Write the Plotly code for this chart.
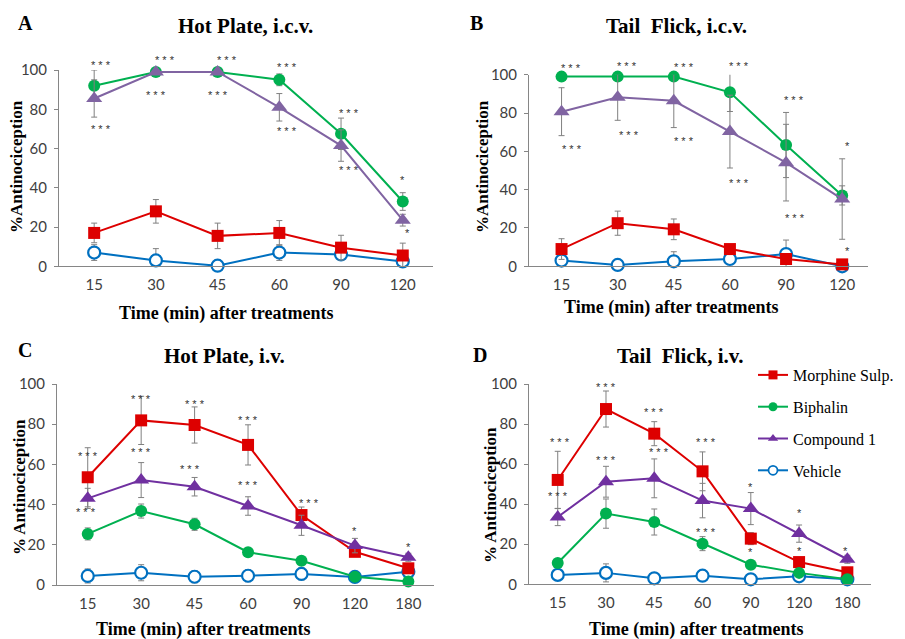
import plotly.graph_objects as go

# ---------------- data ----------------
times_icv = ["15", "30", "45", "60", "90", "120"]
times_iv = ["15", "30", "45", "60", "90", "120", "180"]
series_names = ["Morphine Sulp.", "Biphalin", "Compound 1", "Vehicle"]

# Panel A: Hot Plate, i.c.v.
A_morphine = [17, 28, 15.5, 17, 9.5, 5.5]
A_morphine_err = [5, 6, 6.5, 6.3, 6.3, 6.3]
A_biphalin = [92, 99, 99, 95, 67.5, 33]
A_biphalin_err = [8, 1, 1, 3, 8, 4.5]
A_comp1 = [85.5, 99, 99, 81, 61.5, 23.5]
A_comp1_err = [9.5, 1, 1, 7, 8, 3]
A_vehicle = [7, 3, 0.3, 7, 6, 2.5]
A_vehicle_err = [4, 6, 3, 4, 3, 3]

# Panel B: Tail Flick, i.c.v.
B_morphine = [9, 22.5, 19.3, 9, 3.8, 1]
B_morphine_err = [5.4, 6.3, 5.4, 2, 2, 1]
B_biphalin = [99, 99, 99, 90.8, 63.3, 37]
B_biphalin_err = [1, 1, 1, 10, 17, 5]
B_comp1 = [80.7, 88.2, 86.4, 70.3, 54.1, 35.1]
B_comp1_err = [12.5, 12, 14, 19, 20, 21]
B_vehicle = [3, 0.7, 2.6, 3.8, 6.4, 0]
B_vehicle_err = [2, 1, 5, 2, 7.3, 1]

# Panel C: Hot Plate, i.v.
C_morphine = [53.6, 81.9, 79.6, 69.7, 34.8, 16.5, 8.3]
C_morphine_err = [14.7, 12, 9, 10, 4, 2, 2]
C_biphalin = [25.4, 36.8, 30.2, 16.3, 12.1, 4.1, 1.7]
C_biphalin_err = [3, 3.5, 3, 1.5, 2, 1, 1]
C_comp1 = [43.1, 52.2, 48.9, 39.3, 29.7, 19.6, 13.8]
C_comp1_err = [5, 8.7, 4.6, 4.6, 5, 3.6, 2]
C_vehicle = [4.5, 6.1, 4.1, 4.6, 5.5, 4.0, 6.6]
C_vehicle_err = [3.5, 4, 3, 3, 3, 1, 1]

# Panel D: Tail Flick, i.v.
D_morphine = [52.1, 87.5, 75.2, 56.4, 22.8, 11.1, 6.0]
D_morphine_err = [14.3, 9, 6, 9.7, 3, 2, 1.5]
D_biphalin = [10.6, 35.3, 31.1, 20.3, 9.8, 5.7, 2.5]
D_biphalin_err = [2, 7.3, 6.5, 3.5, 2, 1.5, 1]
D_comp1 = [33.6, 51.2, 52.9, 41.8, 37.8, 25.3, 12.5]
D_comp1_err = [4.3, 7.7, 9.7, 8.6, 8, 4.3, 2]
D_vehicle = [4.7, 5.7, 3.0, 4.3, 2.5, 4.0, 2.5]
D_vehicle_err = [2, 4.5, 1.5, 1.5, 1.5, 1.5, 1]

# significance labels: (category index, level, text)
A_stars = [(0, 104, "***"), (0, 71.5, "***"), (1, 106.8, "***"), (1, 89, "***"),
           (2, 106.8, "***"), (2, 89, "***"), (3, 103, "***"), (3, 70.6, "***"),
           (4, 79.6, "***"), (4, 50.8, "***"), (5, 45.7, "*"), (5, 18.5, "*")]
B_stars = [(0, 105, "***"), (0, 62.8, "***"), (1, 106, "***"), (1, 70.3, "***"),
           (2, 105.6, "***"), (2, 66.8, "***"), (3, 106, "***"), (3, 45, "***"),
           (4, 88.5, "***"), (4, 26.8, "***"), (5, 64.5, "*"), (5, 9.4, "*")]
C_stars = [(0, 65.8, "***"), (0, 37.6, "***"), (1, 94, "***"), (1, 67.5, "***"),
           (2, 91.7, "***"), (2, 59.4, "***"), (3, 83.7, "***"), (3, 51.4, "***"),
           (4, 42.3, "***"), (5, 28.5, "*"), (6, 20.2, "*")]
D_stars = [(0, 72.4, "***"), (0, 45.8, "***"), (1, 99.8, "***"), (1, 63.6, "***"),
           (2, 87.4, "***"), (2, 67.7, "***"), (3, 72.4, "***"), (3, 27.8, "***"),
           (4, 50.2, "*"), (4, 17.8, "*"), (5, 37.1, "*"), (5, 18.1, "*"), (6, 18.1, "*")]
# horizontal nudges of the significance labels (px), same order as above
A_star_dx = [7, 7, 9, 0, 9, 0, 8, 8, 8, 8, 0, 5]
B_star_dx = [9, 10, 9, 11, 10, 10, 9, 9, 8, 9, 5, 5]
C_star_dx = [0, -2, 0, 0, 0, -5, 0, 0, 8, 0, 0]
D_star_dx = [2, 0, 0, 0, 0, 5, 3, 3, 0, 0, 0, 0, -2]

# ---------------- style ----------------
# The page body adds an 8px margin, so the figure is sized to fill the
# 905x639 window exactly; positions below are given in window pixels.
OFF = 8
W, H = 905 - OFF, 639 - OFF
RED = "#DD0000"
GREEN = "#00B050"
PURPLE_ICV = "#8064A2"
PURPLE_IV = "#7030A0"
BLUE = "#0070C0"
ERR = "#808080"
SERIF = "Liberation Serif"
SANS = "Lato"


def px_x(p):
    return (p - OFF) / W


def px_y(p):
    return 1 - (p - OFF) / H


panels = [
    dict(key="", cats=times_icv, purple=PURPLE_ICV,
         xdom=[px_x(59), px_x(433)], ydom=[px_y(266.3), px_y(70)],
         xr=[-0.57, 5.49],
         data=[(A_vehicle, A_vehicle_err), (A_morphine, A_morphine_err),
               (A_biphalin, A_biphalin_err), (A_comp1, A_comp1_err)],
         stars=A_stars, dx=A_star_dx,
         letter=("A", 25, 23), title=("Hot Plate, i.c.v.", 245, 26),
         xt=(226, 313), yt=("%Antinociception", 17, 167)),
    dict(key="2", cats=times_icv, purple=PURPLE_ICV,
         xdom=[px_x(529), px_x(868)], ydom=[px_y(266.3), px_y(74.7)],
         xr=[-0.58, 5.46],
         data=[(B_vehicle, B_vehicle_err), (B_morphine, B_morphine_err),
               (B_biphalin, B_biphalin_err), (B_comp1, B_comp1_err)],
         stars=B_stars, dx=B_star_dx,
         letter=("B", 477, 23), title=("Tail  Flick, i.c.v.", 676, 26),
         xt=(671, 307), yt=("%Antinociception", 483, 167)),
    dict(key="3", cats=times_iv, purple=PURPLE_IV,
         xdom=[px_x(57), px_x(434)], ydom=[px_y(585), px_y(384)],
         xr=[-0.575, 6.48],
         data=[(C_vehicle, C_vehicle_err), (C_morphine, C_morphine_err),
               (C_biphalin, C_biphalin_err), (C_comp1, C_comp1_err)],
         stars=C_stars, dx=C_star_dx,
         letter=("C", 25, 350), title=("Hot Plate, i.v.", 224, 356),
         xt=(203, 629), yt=("% Antinociception", 19, 487)),
    dict(key="4", cats=times_iv, purple=PURPLE_IV,
         xdom=[px_x(529), px_x(871)], ydom=[px_y(584.3), px_y(384)],
         xr=[-0.595, 6.49],
         data=[(D_vehicle, D_vehicle_err), (D_morphine, D_morphine_err),
               (D_biphalin, D_biphalin_err), (D_comp1, D_comp1_err)],
         stars=D_stars, dx=D_star_dx,
         letter=("D", 480, 355), title=("Tail  Flick, i.v.", 680, 356),
         xt=(696, 629), yt=("% Antinociception", 490, 495)),
]

fig = go.Figure()
annotations = []
layout_axes = {}


def paper_text(x, y, text, size, angle=0):
    return dict(x=px_x(x), y=px_y(y), xref="paper", yref="paper",
                xanchor="center", yanchor="middle", text=text, showarrow=False,
                textangle=angle, font=dict(family=SERIF, size=size, color="black"))


for p in panels:
    k = p["key"]
    xa, ya = "x" + k, "y" + k
    styles = [
        dict(name="Vehicle", color=BLUE, symbol="circle-open", fill="white", size=12),
        dict(name="Morphine Sulp.", color=RED, symbol="square", fill=RED, size=12),
        dict(name="Biphalin", color=GREEN, symbol="circle", fill=GREEN, size=12),
        dict(name="Compound 1", color=p["purple"], symbol="triangle-up", fill=p["purple"], size=14),
    ]
    for (vals, errs), st in zip(p["data"], styles):
        open_marker = st["symbol"] == "circle-open"
        fig.add_trace(go.Scatter(
            x=p["cats"], y=vals, xaxis=xa, yaxis=ya, mode="lines+markers",
            name=st["name"], showlegend=False, cliponaxis=False,
            line=dict(color=st["color"], width=2),
            marker=dict(symbol="circle" if open_marker else st["symbol"],
                        size=st["size"], color=st["fill"],
                        line=dict(color=st["color"], width=2.2 if open_marker else 0)),
            error_y=dict(type="data", array=errs, visible=True, color=ERR,
                         thickness=1, width=3),
        ))
    layout_axes["xaxis" + k] = dict(
        domain=p["xdom"], anchor=ya, type="category", range=p["xr"],
        showline=True, linecolor="#868686", linewidth=1, ticks="",
        showgrid=False, zeroline=False, automargin=False,
        tickfont=dict(family=SANS, size=15, color="#404040"),
        ticklabelstandoff=5,
    )
    layout_axes["yaxis" + k] = dict(
        domain=p["ydom"], anchor=xa, range=[0, 100], dtick=20,
        showline=True, linecolor="#868686", linewidth=1,
        ticks="outside", ticklen=4, tickcolor="#868686",
        showgrid=False, zeroline=False, automargin=False,
        tickfont=dict(family=SANS, size=15, color="#404040"),
        ticklabelstandoff=4,
    )
    for (ci, lvl, txt), dx in zip(p["stars"], p["dx"]):
        annotations.append(dict(
            x=ci, y=lvl / 100.0, xref=xa, yref=ya + " domain", text=" ".join(txt),
            xanchor="center", yanchor="middle",
            showarrow=False, xshift=dx, yshift=-3,
            font=dict(family="Liberation Sans", size=11, color="#333333"),
        ))
    lt, lx, ly = p["letter"]
    annotations.append(paper_text(lx, ly, "<b>%s</b>" % lt, 20))
    tt, tx, ty = p["title"]
    annotations.append(paper_text(tx, ty, "<b>%s</b>" % tt, 21))
    xtx, xty = p["xt"]
    annotations.append(paper_text(xtx, xty, "<b>Time (min) after treatments</b>", 18))
    yt, ytx, yty = p["yt"]
    annotations.append(paper_text(ytx, yty, "<b>%s</b>" % yt, 17, angle=-90))

# legend entries (legend-only traces)
legend_styles = [
    ("Morphine Sulp.", RED, "square", RED, 0),
    ("Biphalin", GREEN, "circle", GREEN, 0),
    ("Compound 1", PURPLE_IV, "triangle-up", PURPLE_IV, 0),
    ("Vehicle", BLUE, "circle", "white", 1.8),
]
for i, (nm, col, sym, fill, lw) in enumerate(legend_styles):
    fig.add_trace(go.Scatter(
        x=[None], y=[None], xaxis="x4", yaxis="y4", mode="lines+markers",
        name=nm, legendgroup="g%d" % i, showlegend=True,
        line=dict(color=col, width=2),
        marker=dict(symbol=sym, size=9, color=fill, line=dict(color=col, width=lw)),
    ))

fig.update_layout(
    width=W, height=H, margin=dict(l=0, r=0, t=0, b=0, pad=0, autoexpand=False),
    paper_bgcolor="white", plot_bgcolor="white",
    annotations=annotations,
    legend=dict(x=px_x(753), y=px_y(358), xanchor="left", yanchor="top",
                font=dict(family="Liberation Serif, serif", size=16, color="black"),
                bgcolor="rgba(0,0,0,0)", tracegroupgap=8, itemwidth=30),
    **layout_axes,
)

fig.write_html("out.html")
